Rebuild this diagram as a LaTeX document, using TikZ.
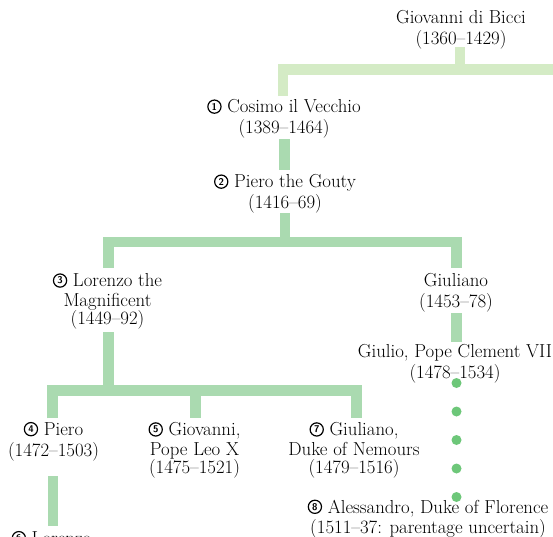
\documentclass[tikz,border=0pt]{standalone}
\usepackage{fontspec}
\definecolor{barA}{HTML}{D4EBC5}
\definecolor{barB}{HTML}{AADAB0}
\definecolor{dotc}{HTML}{6DC779}
\tikzset{
  person/.style={align=center, inner sep=0pt, anchor=north, font=\fontsize{18.8}{18.3}\selectfont},
  numring/.style={circle, draw, line width=1.2pt, inner sep=0pt, minimum size=13.2pt,
    font=\sffamily\bfseries\fontsize{9.8}{9.8}\selectfont},
  bar/.style={line width=10.5pt, line cap=butt, line join=miter, draw=barB},
  dot/.style={fill=dotc, draw=none}
}
\newcommand\cn[1]{\smash{\tikz[baseline={([yshift=-6.3pt]N.center)}]\node[numring] (N) {#1};}}
\begin{document}
\begin{tikzpicture}[x=1pt,y=-1pt]
\useasboundingbox (0,0) rectangle (553,536);
% people
\node[person] (giov) at (461,10.1) {\strut Giovanni di Bicci\\(1360--1429)};
\node[person] (cosimo) at (284,99.6) {\strut\cn{1} Cosimo il Vecchio\\(1389--1464)};
\node[person] (pierog) at (285,174.6) {\strut\cn{2} Piero the Gouty\\(1416--69)};
\node[person] (lorenzo) at (107.5,273.6) {\strut\cn{3} Lorenzo the\\Magnificent\\(1449--92)};
\node[person] (giuliano) at (456,273.6) {\strut Giuliano\\(1453--78)};
\node[person] (giulio) at (455,344.4) {\strut Giulio, Pope Clement VII\\(1478--1534)};
\node[person] (piero) at (53.5,422.4) {\strut\cn{4} Piero\\(1472--1503)};
\node[person] (giovanni) at (194.5,422.4) {\strut\cn{5} Giovanni,\\Pope Leo X\\(1475--1521)};
\node[person] (giulianod) at (354,422.4) {\strut\cn{7} Giuliano,\\Duke of Nemours\\(1479--1516)};
\node[person] (alessandro) at (428,499.6) {\strut\cn{8} Alessandro, Duke of Florence\\(1511--37: parentage uncertain)};
\node[person] (lorenzo6) at (51.5,531.4) {\strut\cn{6} Lorenzo};
% connector points
\coordinate (g0) at (460,47);
\coordinate (g1) at (460,69.5);
\coordinate (c0) at (283,96);
\coordinate (c1) at (283,69.5);
\coordinate (r1) at (560,69.5);
\coordinate (c2) at (284.5,139);
\coordinate (p0) at (284.5,170);
\coordinate (p1) at (285,213);
\coordinate (p2) at (285,242);
\coordinate (l0) at (108.7,268);
\coordinate (l1) at (108.7,242);
\coordinate (u1) at (456.3,242);
\coordinate (u0) at (456.3,268);
\coordinate (u2) at (456.3,313);
\coordinate (j0) at (456.3,342);
\coordinate (l2) at (108.5,332);
\coordinate (l3) at (108.5,390.5);
\coordinate (a0) at (52.5,418.3);
\coordinate (a1) at (52.5,390.5);
\coordinate (d1) at (356.7,390.5);
\coordinate (d0) at (356.7,418.3);
\coordinate (v1) at (195.5,390.5);
\coordinate (v0) at (195.5,418.3);
\coordinate (a2) at (53,476);
\coordinate (s0) at (53,526);
% connectors
\draw[bar, draw=barA] (g0) -- (g1);
\draw[bar, draw=barA] (c0) -- (c1) -- (r1);
\draw[bar] (c2) -- (p0);
\draw[bar] (p1) -- (p2);
\draw[bar] (l0) -- (l1) -- (u1) -- (u0);
\draw[bar] (u2) -- (j0);
\draw[bar] (l2) -- (l3);
\draw[bar] (a0) -- (a1) -- (d1) -- (d0);
\draw[bar] (v1) -- (v0);
\draw[bar] (a2) -- (s0);
% dotted line of descent
\foreach \yy/\nm in {383/da,411.5/db,440/dc,468.5/dd,497/de}
  \fill[dot] (456.5,\yy) circle (5pt) coordinate (\nm);
\end{tikzpicture}
\end{document}
